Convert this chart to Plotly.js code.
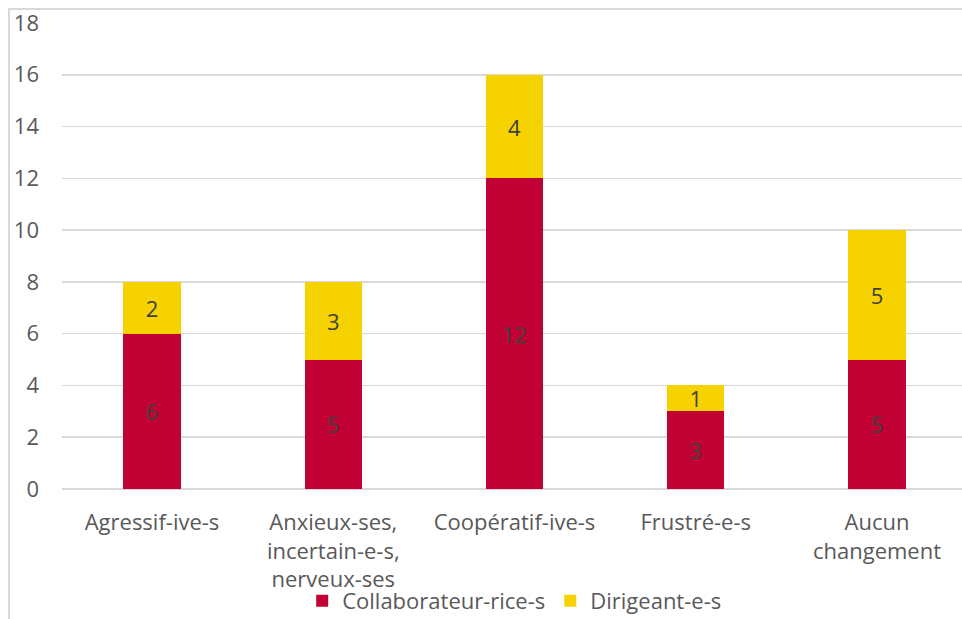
<!DOCTYPE html>
<html>
<head>
<meta charset="utf-8">
<script src="https://cdn.plot.ly/plotly-3.0.1.min.js"></script>
<style>
  html, body { margin: 0; padding: 0; background: #fff; }
  #wrap { position: relative; width: 962px; height: 619px; }
  #chart { width: 962px; height: 619px; }
  #frame { position: absolute; left: 8px; top: 8px; right: -2px; bottom: -2px;
           border-left: 2px solid #d9d9d9; border-top: 2px solid #d9d9d9; pointer-events: none; }
</style>
</head>
<body>
<div id="wrap"><div id="chart"></div><div id="frame"></div></div>
<script>
const categories = [
  "Agressif-ive-s",
  "Anxieux-ses,<br>incertain-e-s,<br>nerveux-ses",
  "Coopératif-ive-s",
  "Frustré-e-s",
  "Aucun<br>changement"
];
const collaborateurs = [6, 5, 12, 3, 5];
const dirigeants = [2, 3, 4, 1, 5];
const yTicks = [0, 2, 4, 6, 8, 10, 12, 14, 16, 18];

const FONT = "Open Sans, Noto Sans, sans-serif";
const FS = 22;
const idx = categories.map((_, i) => i);

const common = {
  type: "bar",
  x: idx,
  width: 0.315,
  textposition: "inside",
  insidetextanchor: "middle",
  textangle: 0,
  constraintext: "none",
  textfont: { family: FONT, size: FS, color: "#404040" },
  hoverinfo: "skip"
};

const traces = [
  Object.assign({}, common, {
    name: "Collaborateur-rice-s",
    y: collaborateurs,
    text: collaborateurs.map(String),
    marker: { color: "#C10033" }
  }),
  Object.assign({}, common, {
    name: "Dirigeant-e-s",
    y: dirigeants,
    text: dirigeants.map(String),
    marker: { color: "#F5D200" }
  })
];

const layout = {
  width: 962,
  height: 619,
  barmode: "stack",
  paper_bgcolor: "#ffffff",
  plot_bgcolor: "#ffffff",
  margin: { l: 62, r: 0, t: 23, b: 130, autoexpand: false },
  font: { family: FONT, size: FS, color: "#595959" },
  showlegend: true,
  legend: {
    orientation: "h",
    x: 0.503, xanchor: "center",
    y: -0.24, yanchor: "middle",
    bgcolor: "rgba(0,0,0,0)",
    font: { family: FONT, size: FS, color: "#595959" },
    itemwidth: 30,
    tracegroupgap: 0,
    traceorder: "normal"
  },
  xaxis: {
    type: "linear",
    range: [-0.4966, 4.469],
    tickmode: "array",
    tickvals: idx,
    ticktext: categories,
    showgrid: false,
    zeroline: false,
    showline: false,
    ticks: "",
    automargin: false,
    ticklabelstandoff: 18,
    tickfont: { family: FONT, size: FS, color: "#595959" },
    fixedrange: true
  },
  yaxis: {
    range: [0, 18],
    tickmode: "array",
    tickvals: yTicks,
    ticktext: yTicks.map(String),
    showgrid: true,
    gridcolor: "#d9d9d9",
    gridwidth: 1.5,
    zeroline: true,
    zerolinecolor: "#d9d9d9",
    zerolinewidth: 1.5,
    showline: false,
    ticks: "",
    automargin: false,
    ticklabelstandoff: 22,
    tickfont: { family: FONT, size: FS, color: "#595959" },
    fixedrange: true
  },
  hovermode: false
};

Plotly.newPlot("chart", traces, layout, { displayModeBar: false, staticPlot: true });
</script>
</body>
</html>
